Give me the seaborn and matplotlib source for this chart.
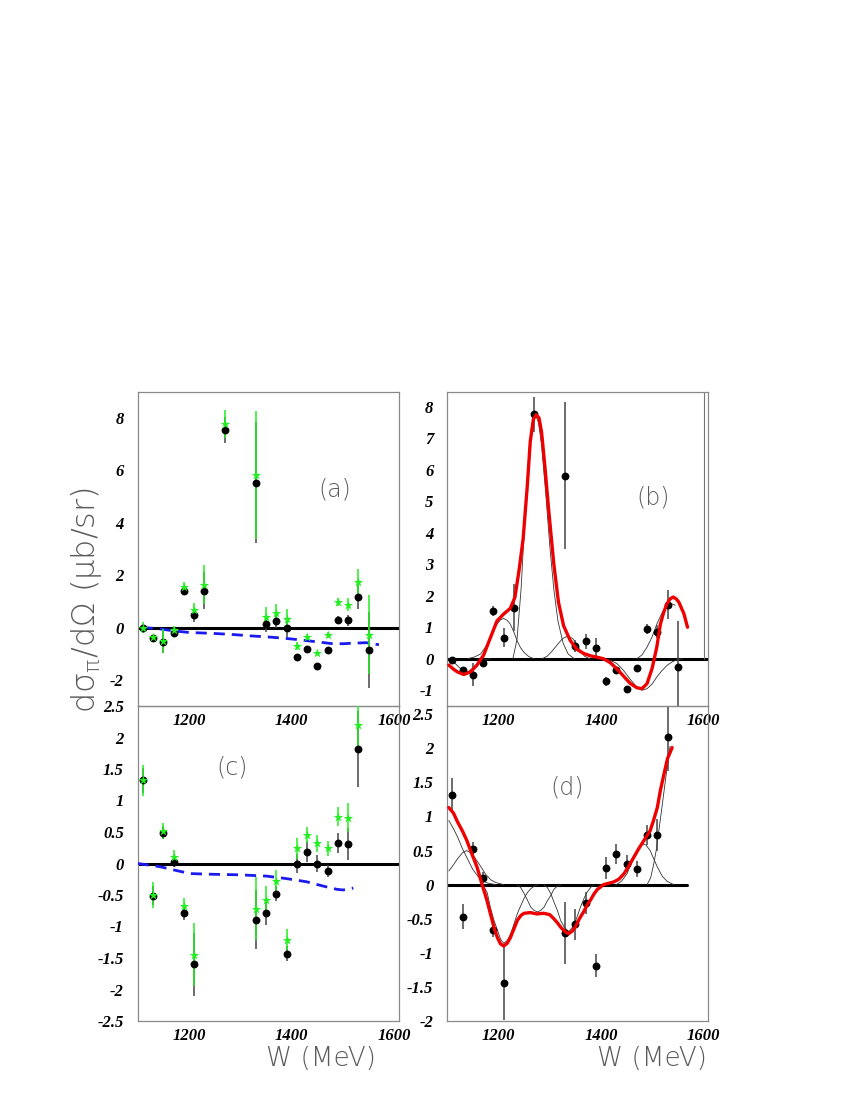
import numpy as np
import matplotlib
matplotlib.use("Agg")
import matplotlib.pyplot as plt
import seaborn as sns
from matplotlib.ticker import MultipleLocator, FuncFormatter

# ---------------- data ----------------
# panel (a): black dots and green stars
w_a = [1110, 1130, 1150, 1170, 1190, 1210, 1230, 1270, 1330, 1350,
       1370, 1390, 1410, 1430, 1450, 1470, 1490, 1510, 1530, 1550]
dots_a = [-0.02, -0.41, -0.56, -0.22, 1.39, 0.47, 1.41, 7.55, 5.54, 0.13,
          0.24, 0.0, -1.12, -0.83, -1.46, -0.87, 0.29, 0.27, 1.17, -0.85]
dots_a_err = [0.1, 0.1, 0.42, 0.1, 0.15, 0.25, 0.7, 0.5, 2.3, 0.3,
              0.25, 0.35, 0.1, 0.1, 0.08, 0.1, 0.15, 0.2, 0.45, 1.45]
stars_a = [0.0, -0.37, -0.52, -0.11, 1.54, 0.68, 1.63, 7.78, 5.82, 0.42,
           0.55, 0.34, -0.7, -0.36, -0.96, -0.28, 0.97, 0.87, 1.73, -0.27]
stars_a_err = [0.2, 0.1, 0.45, 0.15, 0.2, 0.25, 0.75, 0.55, 2.45, 0.35,
               0.35, 0.35, 0.15, 0.1, 0.08, 0.1, 0.15, 0.25, 0.5, 1.5]
blue_a_w = [1108, 1130, 1150, 1170, 1200, 1240, 1280, 1320, 1360, 1390,
            1415, 1450, 1480, 1500, 1520, 1545, 1570]
blue_a = [0.0, -0.03, -0.07, -0.13, -0.19, -0.22, -0.26, -0.32, -0.37, -0.42,
          -0.47, -0.55, -0.62, -0.62, -0.6, -0.58, -0.66]

# panel (b): black dots, fit (red) and components (thin)
w_b = [1110, 1130, 1150, 1170, 1190, 1210, 1230, 1270, 1330, 1350,
       1370, 1390, 1410, 1430, 1450, 1470, 1490, 1510, 1530, 1550]
dots_b = [-0.03, -0.37, -0.5, -0.13, 1.51, 0.67, 1.62, 7.76, 5.81, 0.41,
          0.55, 0.35, -0.72, -0.37, -0.96, -0.29, 0.94, 0.86, 1.71, -0.26]
dots_b_err = [0.1, 0.1, 0.38, 0.1, 0.16, 0.3, 0.75, 0.55, 2.34, 0.2,
              0.25, 0.3, 0.15, 0.1, 0.08, 0.08, 0.15, 0.2, 0.46, 1.47]
stray_w = [1602]
stray_lo = [0.0]
stray_hi = [9.0]
red_b_w = [1103, 1112, 1120, 1132, 1145, 1158, 1171, 1184, 1197, 1210,
           1223, 1232, 1240, 1248, 1256, 1262, 1268, 1273, 1279, 1284,
           1290, 1298, 1308, 1317, 1327, 1340, 1353, 1366, 1380, 1392,
           1405, 1418, 1431, 1444, 1457, 1470, 1480, 1490, 1500, 1509,
           1516, 1523, 1529, 1535, 1541, 1547, 1552, 1562, 1569]
red_b = [-0.2, -0.33, -0.42, -0.5, -0.42, -0.2, 0.12, 0.66, 1.2, 1.42,
         1.6, 1.95, 2.8, 3.8, 5.45, 6.9, 7.6, 7.75, 7.65, 7.2,
         6.2, 4.71, 3.0, 1.8, 1.05, 0.58, 0.3, 0.17, 0.09, 0.05,
         0.0, -0.12, -0.32, -0.55, -0.78, -0.92, -0.95, -0.79, -0.3, 0.37,
         1.1, 1.5, 1.75, 1.9, 1.96, 1.9, 1.8, 1.43, 1.0]
comp_b1_w = [1103, 1112, 1120, 1128, 1135, 1142, 1150, 1158, 1166, 1175, 1185]
comp_b1 = [-0.02, -0.1, -0.22, -0.35, -0.42, -0.4, -0.3, -0.17, -0.07, -0.02, 0.0]
comp_b2_w = [1139, 1152, 1165, 1175, 1184, 1191, 1197, 1204, 1210, 1217,
             1223, 1230, 1236, 1243, 1250, 1259, 1269]
comp_b2 = [0.0, 0.05, 0.15, 0.38, 0.69, 0.92, 1.1, 1.24, 1.28, 1.22,
           1.1, 0.85, 0.58, 0.35, 0.2, 0.07, 0.0]
comp_b3_w = [1228, 1236, 1244, 1252, 1260, 1266, 1272, 1278, 1284, 1292,
             1300, 1308, 1316, 1326, 1336, 1348]
comp_b3 = [0.0, 0.6, 2.2, 4.6, 6.7, 7.5, 7.75, 7.5, 6.8, 5.3,
           3.6, 2.2, 1.2, 0.5, 0.15, 0.0]
comp_b4_w = [1285, 1295, 1305, 1315, 1325, 1335, 1345, 1353, 1360, 1368, 1378]
comp_b4 = [0.0, 0.08, 0.25, 0.45, 0.64, 0.72, 0.64, 0.45, 0.25, 0.08, 0.0]
comp_b5_w = [1405, 1418, 1431, 1444, 1457, 1470, 1480, 1490, 1500, 1509,
             1519, 1529, 1539, 1548, 1560]
comp_b5 = [0.0, -0.05, -0.15, -0.37, -0.65, -0.9, -1.0, -0.95, -0.8, -0.58,
           -0.38, -0.21, -0.1, -0.03, 0.0]
comp_b6_w = [1470, 1480, 1490, 1500, 1509, 1519, 1529, 1537, 1545]
comp_b6 = [0.0, 0.12, 0.37, 0.7, 1.1, 1.45, 1.68, 1.75, 1.7]

# panel (c): black dots and green stars
w_c = [1110, 1130, 1150, 1170, 1190, 1210, 1330, 1350, 1370, 1390,
       1410, 1430, 1450, 1470, 1490, 1510, 1530]
dots_c = [1.32, -0.51, 0.49, 0.03, -0.79, -1.6, -0.89, -0.78, -0.48, -1.43,
          0.0, 0.19, 0.0, -0.12, 0.32, 0.31, 1.82]
dots_c_err = [0.2, 0.15, 0.1, 0.08, 0.1, 0.5, 0.47, 0.2, 0.12, 0.12,
              0.15, 0.16, 0.13, 0.1, 0.16, 0.25, 0.6]
stars_c = [1.32, -0.5, 0.52, 0.1, -0.67, -1.45, -0.72, -0.58, -0.27, -1.21,
           0.24, 0.45, 0.32, 0.24, 0.74, 0.73, 2.2]
stars_c_err = [0.25, 0.2, 0.13, 0.12, 0.12, 0.5, 0.5, 0.22, 0.17, 0.17,
               0.17, 0.13, 0.14, 0.12, 0.15, 0.23, 0.35]
blue_c_w = [1100, 1143, 1169, 1202, 1241, 1299, 1351, 1390, 1429, 1462,
            1488, 1500, 1520]
blue_c = [0.0, -0.05, -0.1, -0.16, -0.17, -0.18, -0.2, -0.24, -0.29, -0.36,
          -0.41, -0.42, -0.39]

# panel (d): black dots, fit (red) and components (thin)
w_d = [1110, 1130, 1150, 1170, 1190, 1210, 1330, 1350, 1370, 1390,
       1410, 1430, 1450, 1470, 1490, 1510, 1530]
dots_d = [1.32, -0.47, 0.53, 0.1, -0.67, -1.44, -0.71, -0.58, -0.27, -1.19,
          0.24, 0.45, 0.31, 0.23, 0.73, 0.73, 2.17]
dots_d_err = [0.25, 0.18, 0.1, 0.08, 0.1, 0.55, 0.46, 0.23, 0.16, 0.17,
              0.16, 0.14, 0.13, 0.12, 0.15, 0.23, 0.5]
red_d_w = [1103, 1112, 1120, 1130, 1138, 1148, 1158, 1168, 1177, 1185,
           1192, 1198, 1204, 1210, 1217, 1223, 1230, 1237, 1244, 1250,
           1262, 1275, 1288, 1300, 1308, 1315, 1322, 1330, 1337, 1344,
           1350, 1358, 1366, 1373, 1380, 1387, 1393, 1400, 1405, 1415,
           1425, 1435, 1445, 1455, 1464, 1474, 1484, 1496, 1503, 1510,
           1516, 1523, 1530, 1539]
red_d = [1.13, 1.05, 0.92, 0.78, 0.65, 0.45, 0.26, 0.0, -0.22, -0.45,
         -0.65, -0.78, -0.87, -0.9, -0.86, -0.78, -0.65, -0.52, -0.45, -0.42,
         -0.41, -0.43, -0.42, -0.44, -0.5, -0.56, -0.63, -0.69, -0.72, -0.68,
         -0.62, -0.5, -0.4, -0.3, -0.22, -0.13, -0.07, -0.03, 0.0, 0.02,
         0.04, 0.08, 0.16, 0.28, 0.4, 0.53, 0.65, 0.79, 0.95, 1.13,
         1.38, 1.62, 1.85, 2.01]
comp_d1_w = [1103, 1112, 1120, 1130, 1140, 1150, 1160, 1170, 1180, 1195]
comp_d1 = [0.94, 0.82, 0.7, 0.52, 0.37, 0.22, 0.12, 0.05, 0.02, 0.0]
comp_d2_w = [1103, 1112, 1120, 1130, 1138, 1147, 1155, 1165, 1175, 1185, 1195, 1210]
comp_d2 = [0.2, 0.29, 0.38, 0.47, 0.5, 0.46, 0.38, 0.27, 0.15, 0.07, 0.03, 0.0]
comp_d3_w = [1165, 1171, 1178, 1184, 1191, 1198, 1204, 1210, 1217, 1224,
             1230, 1237, 1244, 1250, 1256, 1263, 1270, 1278]
comp_d3 = [0.0, -0.02, -0.12, -0.33, -0.52, -0.67, -0.8, -0.86, -0.82, -0.72,
           -0.58, -0.42, -0.3, -0.2, -0.12, -0.06, -0.02, 0.0]
comp_d4_w = [1236, 1243, 1250, 1256, 1263, 1270, 1276, 1282, 1289, 1295,
             1302, 1308, 1315, 1322]
comp_d4 = [0.0, -0.04, -0.13, -0.22, -0.33, -0.38, -0.4, -0.38, -0.33, -0.24,
           -0.16, -0.07, -0.02, 0.0]
comp_d5_w = [1288, 1295, 1302, 1308, 1315, 1321, 1328, 1337, 1347, 1353,
             1360, 1367, 1373, 1380, 1387]
comp_d5 = [0.0, -0.04, -0.13, -0.25, -0.38, -0.52, -0.62, -0.69, -0.6, -0.48,
           -0.33, -0.2, -0.11, -0.04, 0.0]
comp_d6_w = [1430, 1440, 1451, 1464, 1472, 1480, 1488, 1496, 1503, 1510,
             1520, 1529, 1542]
comp_d6 = [0.0, 0.05, 0.16, 0.4, 0.53, 0.6, 0.58, 0.5, 0.38, 0.26,
           0.12, 0.05, 0.0]
comp_d7_w = [1490, 1497, 1503, 1509, 1514, 1519, 1524, 1529, 1535]
comp_d7 = [0.0, 0.1, 0.3, 0.55, 0.85, 1.13, 1.42, 1.71, 2.03]
zero_d_w = [1100, 1568]

# ---------------- style ----------------
sns.set_style("white")
plt.rcParams['font.family'] = ['Liberation Serif', 'DejaVu Serif']
plt.rcParams['font.weight'] = 'bold'
plt.rcParams['font.style'] = 'italic'
plt.rcParams['axes.unicode_minus'] = False
plt.rcParams['mathtext.default'] = 'regular'

GRAY = '#8a8a8a'
GREEN = '#22ee22'
LABEL_FONT = dict(family=['DejaVu Sans'], weight='light', style='normal', color='#5a5a5a')

fig = plt.figure(figsize=(8.5, 11), dpi=100)


def make_axes(left, top, right, bottom):
    return fig.add_axes([left / 850, 1 - bottom / 1100,
                         (right - left) / 850, (bottom - top) / 1100])


def setup(ax, ylim, ymaj, ymin_):
    ax.set_xlim(1100, 1609)
    ax.set_ylim(*ylim)
    ax.set_facecolor('none')
    for s in ax.spines.values():
        s.set_color(GRAY)
        s.set_linewidth(0.9)
    ax.xaxis.set_major_locator(MultipleLocator(200))
    ax.xaxis.set_minor_locator(MultipleLocator(50))
    ax.yaxis.set_major_locator(MultipleLocator(ymaj))
    ax.yaxis.set_minor_locator(MultipleLocator(ymin_))
    ax.yaxis.set_major_formatter(FuncFormatter(lambda v, p: f'{v:g}'))
    ax.tick_params(which='both', direction='in', color=GRAY, top=False, right=False,
                   labelsize=12, labelcolor='black')
    ax.tick_params(axis='y', which='major', length=8.5, width=0.9, pad=10)
    ax.tick_params(axis='y', which='minor', length=3.6, width=0.8)
    ax.tick_params(axis='x', which='major', length=7, width=0.9, pad=5)
    ax.tick_params(axis='x', which='minor', length=5, width=0.8)
    ax.set_xlabel('')
    ax.set_ylabel('')


def data_panel(ax, w, dots, dots_err, stars=None, stars_err=None):
    w = np.asarray(w, float)
    d = np.asarray(dots, float)
    ax.vlines(w, d - np.asarray(dots_err), d + np.asarray(dots_err),
              color='#444444', lw=1.1, zorder=2)
    if stars is not None:
        s = np.asarray(stars, float)
        ax.vlines(w, s - np.asarray(stars_err), s + np.asarray(stars_err),
                  color=GREEN, lw=1.1, zorder=3)
    sns.scatterplot(x=w, y=d, ax=ax, color='black', s=32, marker='o',
                    edgecolor='black', linewidth=0, zorder=4, legend=False)
    if stars is not None:
        sns.scatterplot(x=w, y=stars, ax=ax, color=GREEN, s=50, marker='*',
                        edgecolor=GREEN, linewidth=0, zorder=5, legend=False)


def curve(ax, w, v, **kw):
    sns.lineplot(x=w, y=v, ax=ax, estimator=None, sort=False, legend=False, **kw)


# ---------------- panel (a) ----------------
ax_a = make_axes(137.7, 392, 399, 706)
ax_a.axhline(0, color='black', lw=2.2, zorder=1)
curve(ax_a, blue_a_w, blue_a, color='#1a1aee', lw=2.0, linestyle=(0, (4, 2.5)), zorder=3)
data_panel(ax_a, w_a, dots_a, dots_a_err, stars_a, stars_a_err)
setup(ax_a, (-3, 9), 2, 0.5)

# ---------------- panel (b) ----------------
ax_b = make_axes(447.3, 392, 708, 706)
ax_b.axhline(0, color='black', lw=2.2, zorder=1)
ax_b.vlines(stray_w, stray_lo, stray_hi, color='#777777', lw=0.8)
for cw, cv in [(comp_b1_w, comp_b1), (comp_b2_w, comp_b2), (comp_b3_w, comp_b3),
               (comp_b4_w, comp_b4), (comp_b5_w, comp_b5), (comp_b6_w, comp_b6)]:
    curve(ax_b, cw, cv, color='#333333', lw=0.6, zorder=2)
data_panel(ax_b, w_b, dots_b, dots_b_err)
curve(ax_b, red_b_w, red_b, color='#ee0000', lw=2.4, zorder=6)
setup(ax_b, (-1.5, 8.47), 1, 0.2)

# ---------------- panel (c) ----------------
ax_c = make_axes(137.7, 706, 399, 1021)
ax_c.axhline(0, color='black', lw=2.2, zorder=1)
curve(ax_c, blue_c_w, blue_c, color='#1a1aee', lw=2.0, linestyle=(0, (4, 2.5)), zorder=3)
data_panel(ax_c, w_c, dots_c, dots_c_err, stars_c, stars_c_err)
setup(ax_c, (-2.5, 2.5), 0.5, 0.1)

# ---------------- panel (d) ----------------
ax_d = make_axes(447.3, 706, 708, 1021)
curve(ax_d, zero_d_w, [0, 0], color='black', lw=2.2, zorder=1)
for cw, cv in [(comp_d1_w, comp_d1), (comp_d2_w, comp_d2), (comp_d3_w, comp_d3),
               (comp_d4_w, comp_d4), (comp_d5_w, comp_d5), (comp_d6_w, comp_d6),
               (comp_d7_w, comp_d7)]:
    curve(ax_d, cw, cv, color='#333333', lw=0.6, zorder=2)
data_panel(ax_d, w_d, dots_d, dots_d_err)
curve(ax_d, red_d_w, red_d, color='#ee0000', lw=2.4, zorder=6)
setup(ax_d, (-2, 2.62), 0.5, 0.1)

# ---------------- labels ----------------
for txt, x, y in [('(a)', 335, 490), ('(b)', 653, 498), ('(c)', 232, 768), ('(d)', 567, 787)]:
    fig.text(x / 850, 1 - y / 1100, txt, ha='center', va='center', fontsize=17, **LABEL_FONT)

fig.text(86 / 850, 1 - 600 / 1100, r'dσ$_{π}$/dΩ (μb/sr)', rotation=90,
         ha='center', va='center', fontsize=23, **LABEL_FONT)
for x in (321, 652):
    fig.text(x / 850, 1 - 1058 / 1100, 'W (MeV)', ha='center', va='center',
             fontsize=19, **LABEL_FONT)

fig.savefig('out.png', dpi=100)
